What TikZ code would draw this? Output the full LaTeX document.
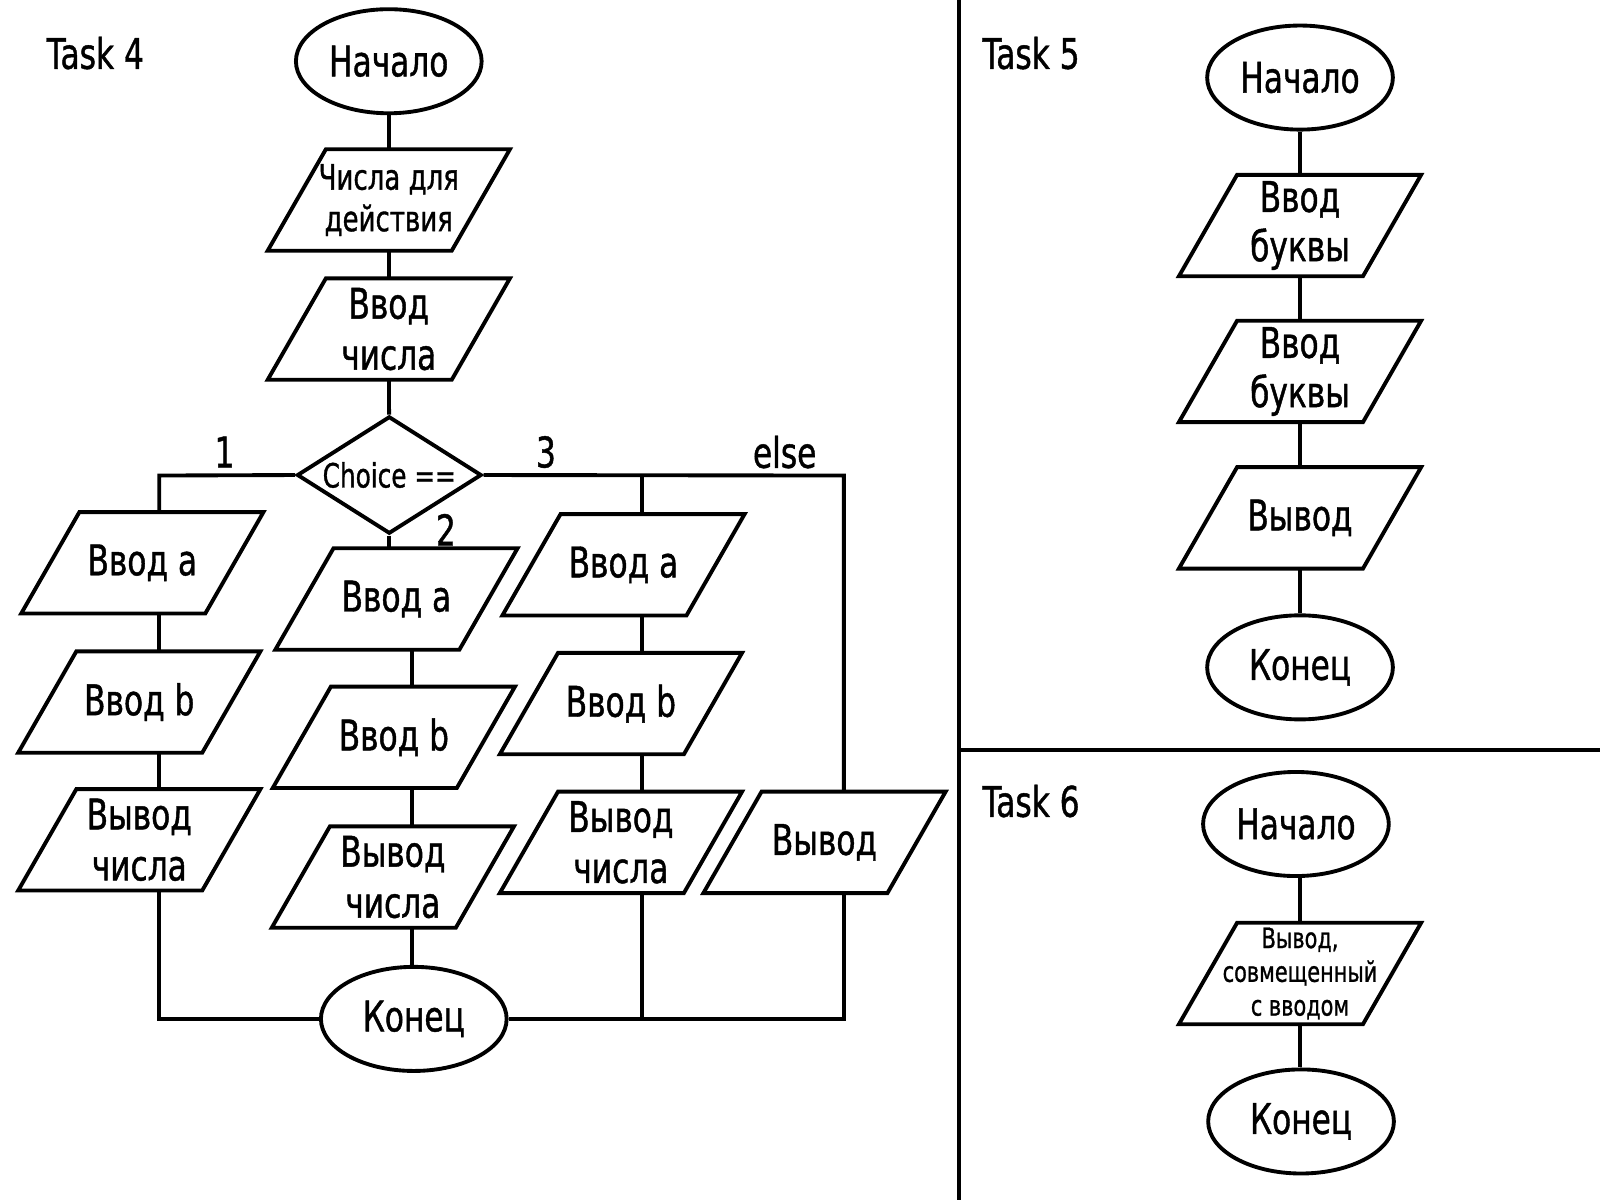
\documentclass[tikz,border=0pt]{standalone}
\usepackage{fontspec}
\setmainfont{DejaVu Sans}[FakeStretch=0.74,FakeBold=1]
\usetikzlibrary{shapes.geometric,calc}
\newcommand{\pxl}{0.0102cm}

\begin{document}
\begin{tikzpicture}[x=0.0102cm,y=-0.0102cm,
  term/.style={ellipse,draw,line width=1.1pt,minimum width=182*\pxl,minimum height=102*\pxl,inner sep=0pt,font=\fontsize{12}{14}\selectfont},
  io/.style={minimum width=236*\pxl,minimum height=98*\pxl,inner sep=0pt,align=center,font=\fontsize{12}{14.5}\selectfont,
    append after command={\pgfextra{\draw[line width=1.1pt] ([xshift=57*\pxl]\tikzlastnode.north west) -- (\tikzlastnode.north east)
      -- ([xshift=-57*\pxl]\tikzlastnode.south east) -- (\tikzlastnode.south west) -- cycle;}}},
  choice/.style={diamond,draw,aspect=1.57,line width=1.1pt,minimum width=181*\pxl,minimum height=115*\pxl,inner sep=0pt,font=\fontsize{9.5}{11}\selectfont},
  link/.style={line width=1.1pt},
  lbl/.style={font=\fontsize{12}{14}\selectfont,inner sep=0pt}]
\useasboundingbox (0,0) rectangle (1568,1176);

% Task 4
\node[lbl,anchor=west] (t4) at (45,52) {Task 4};
\node[term] (start4) at (381,60) {Начало};
\node[io,font=\fontsize{10}{11.8}\selectfont] (nums) at (381,196) {Числа для\\действия};
\node[io] (innum) at (381,322.5) {Ввод\\числа};
\node[choice] (dia) at (381.5,465.5) {Choice ==};
\node[io] (a1) at (139.5,551.5) {Ввод a};
\node[io] (b1) at (136.5,688) {Ввод b};
\node[io] (c1) at (136.5,823) {Вывод\\числа};
\node[io] (a2) at (388.5,587) {Ввод a};
\node[io] (b2) at (386,722.5) {Ввод b};
\node[io] (c2) at (385,859.5) {Вывод\\числа};
\node[io] (a3) at (611,553.5) {Ввод a};
\node[io] (b3) at (608.5,689.5) {Ввод b};
\node[io] (c3) at (608.5,825.5) {Вывод\\числа};
\node[io] (d4) at (808,825.5) {Вывод};
\node[term] (end4) at (405.5,998.5) {Конец};
\coordinate (k1) at (156,466);
\coordinate (k2) at (404,660);
\coordinate (k3) at (629,466);
\coordinate (k4) at (827,466);

\draw[link] (start4) -- (nums);
\draw[link] (nums) -- (innum);
\draw[link] (innum) -- (dia);
\draw[link] (dia.west) -- (k1) -- (k1 |- a1.north);
\draw[link] (a1.south -| k1) -- (b1.north -| k1);
\draw[link] (b1.south -| k1) -- (c1.north -| k1);
\draw[link] (c1.south -| k1) |- (end4.west);
\draw[link] (dia.south) -- (dia.south |- a2.north);
\draw[link] (a2.south -| k2) -- (b2.north -| k2);
\draw[link] (b2.south -| k2) -- (c2.north -| k2);
\draw[link] (c2.south -| k2) -- (end4.north -| k2);
\draw[link] (dia.east) -- (k4) -- (k4 |- d4.north);
\draw[link] (k3) -- (k3 |- a3.north);
\draw[link] (a3.south -| k3) -- (b3.north -| k3);
\draw[link] (b3.south -| k3) -- (c3.north -| k3);
\draw[link] (c3.south -| k3) -- (k3 |- end4.east);
\draw[link] (d4.south -| k4) |- (end4.east);

\node[lbl] (n1) at (220,443) {1};
\node[lbl] (n2) at (437,519) {2};
\node[lbl] (n3) at (535,443) {3};
\node[lbl] (n4) at (769,443) {else};

% dividers
\coordinate (v1) at (940,0);
\coordinate (v2) at (940,1176);
\coordinate (h1) at (940,735);
\coordinate (h2) at (1568,735);
\draw[line width=1.3pt] (v1) -- (v2);
\draw[line width=1.3pt] (h1) -- (h2);

% Task 5
\node[lbl,anchor=west] (t5) at (962,52) {Task 5};
\node[term] (start5) at (1274,76) {Начало};
\node[io,font=\fontsize{12}{14}\selectfont] (q1) at (1274,221) {Ввод\\буквы};
\node[io,font=\fontsize{12}{14}\selectfont] (q2) at (1274,364) {Ввод\\буквы};
\node[io] (q3) at (1274,507.5) {Вывод};
\node[term] (end5) at (1274,654) {Конец};
\draw[link] (start5) -- (q1);
\draw[link] (q1) -- (q2);
\draw[link] (q2) -- (q3);
\draw[link] (q3) -- (end5);

% Task 6
\node[lbl,anchor=west] (t6) at (962,785) {Task 6};
\node[term] (start6) at (1270,807.5) {Начало};
\node[io,font=\fontsize{8}{9.6}\selectfont] (r1) at (1274,954) {Вывод,\\совмещенный\\с вводом};
\node[term] (end6) at (1275,1099) {Конец};
\draw[link] (start6.south -| r1.north) -- (r1);
\draw[link] (r1) -- (end6.north -| r1.south);
\end{tikzpicture}
\end{document}
